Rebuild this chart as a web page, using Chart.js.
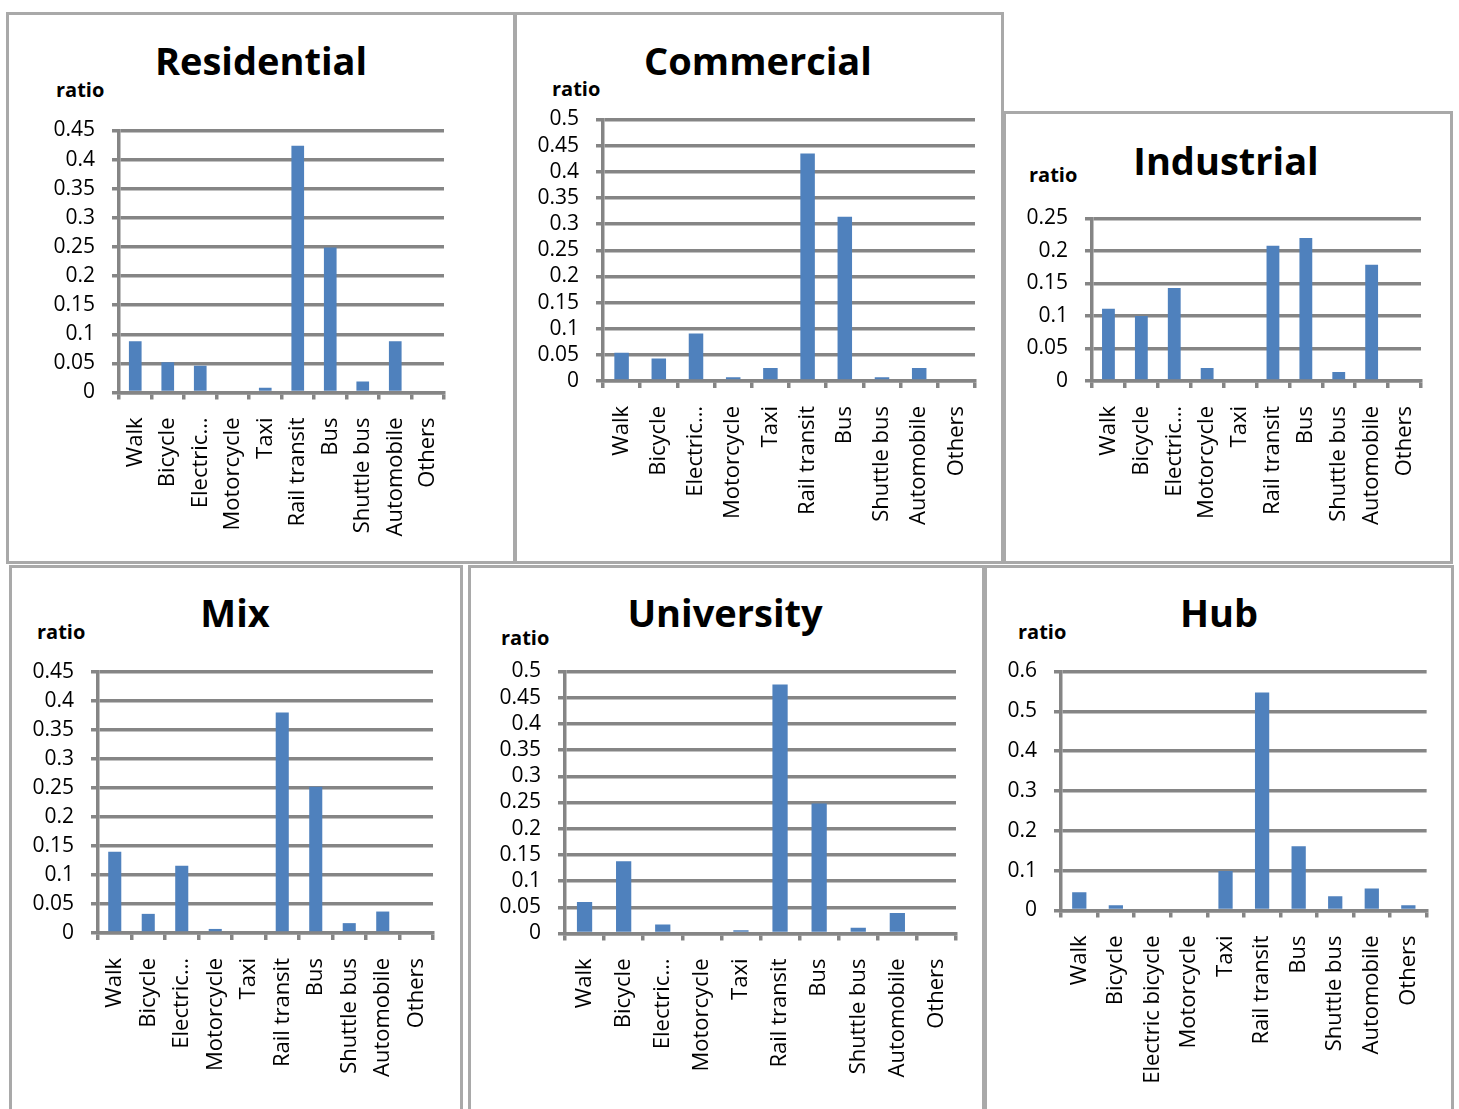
<!DOCTYPE html>
<html>
<head>
<meta charset="utf-8">
<script src="https://cdn.jsdelivr.net/npm/chart.js@4.4.0/dist/chart.umd.min.js"></script>
<style>
  html, body { margin: 0; padding: 0; background: #fff; }
  body { position: relative; width: 1459px; height: 1109px; overflow: hidden; font-family: 'Open Sans', sans-serif; }
  .box { position: absolute; box-sizing: border-box; border: 3px solid #a9a9a9; background: #fff; }
  .title { position: absolute; width: 400px; text-align: center; font-weight: bold; font-size: 38px; line-height: 1; color: #000; white-space: nowrap; }
  .ratio { position: absolute; font-weight: bold; font-size: 20px; line-height: 1; color: #000; }
  canvas { position: absolute; }
</style>
</head>
<body>
<script>
// mode share per land-use type
const categories = ['Walk', 'Bicycle', 'Electric bicycle', 'Motorcycle', 'Taxi', 'Rail transit', 'Bus', 'Shuttle bus', 'Automobile', 'Others'];
const shortCategories = ['Walk', 'Bicycle', 'Electric…', 'Motorcycle', 'Taxi', 'Rail transit', 'Bus', 'Shuttle bus', 'Automobile', 'Others'];

const residential = [0.088, 0.052, 0.046, 0, 0.008, 0.424, 0.249, 0.019, 0.088, 0];
const commercial  = [0.054, 0.043, 0.091, 0.007, 0.025, 0.435, 0.314, 0.007, 0.025, 0];
const industrial  = [0.111, 0.1, 0.143, 0.02, 0, 0.208, 0.22, 0.014, 0.179, 0];
const mix         = [0.14, 0.033, 0.116, 0.007, 0, 0.38, 0.252, 0.017, 0.037, 0];
const university  = [0.06, 0.138, 0.017, 0, 0.006, 0.475, 0.248, 0.011, 0.039, 0];
const hub         = [0.046, 0.013, 0, 0, 0.099, 0.547, 0.161, 0.036, 0.055, 0.013];

// y axis ranges [max, step]
const residentialAxis = [0.45, 0.05];
const commercialAxis  = [0.5, 0.05];
const industrialAxis  = [0.25, 0.05];
const mixAxis         = [0.45, 0.05];
const universityAxis  = [0.5, 0.05];
const hubAxis         = [0.6, 0.1];

const BAR = '#4F81BD';
const GRID = '#858585';

// layout: outer box, plot area, title centre/baseline, "ratio" position
const panels = [
  { name: 'Residential', data: residential, axis: residentialAxis, labels: shortCategories,
    box: [6, 12, 510, 552], plot: [119, 130.5, 444, 392.5], title: [261, 75], ratio: [56, 98] },
  { name: 'Commercial', data: commercial, axis: commercialAxis, labels: shortCategories,
    box: [514, 12, 490, 552], plot: [603, 119.5, 975, 381], title: [758, 75], ratio: [552, 97] },
  { name: 'Industrial', data: industrial, axis: industrialAxis, labels: shortCategories,
    box: [1003, 111, 450, 453], plot: [1092, 218.5, 1421, 381], title: [1226, 175], ratio: [1029, 183] },
  { name: 'Mix', data: mix, axis: mixAxis, labels: shortCategories,
    box: [9, 565, 454, 560], plot: [98, 672, 433, 933], title: [235, 627], ratio: [37, 640] },
  { name: 'University', data: university, axis: universityAxis, labels: shortCategories,
    box: [468, 565, 517, 560], plot: [565, 671.5, 956, 933.5], title: [725, 627], ratio: [501, 646] },
  { name: 'Hub', data: hub, axis: hubAxis, labels: categories,
    box: [984, 565, 470, 560], plot: [1061, 671.5, 1429, 910.5], title: [1219, 627], ratio: [1018, 640] }
];

function fmt(v) {
  return String(parseFloat(Number(v).toFixed(2)));
}

function addDiv(cls, text, left, top) {
  const d = document.createElement('div');
  d.className = cls;
  d.textContent = text;
  d.style.left = left + 'px';
  d.style.top = top + 'px';
  document.body.appendChild(d);
  return d;
}

function buildPanel(p) {
  const [bx, by, bw, bh] = p.box;
  const [pl, pt, pr, pb] = p.plot;
  const yW = pl - bx;          // y axis takes everything left of the plot
  const xH = by + bh - pb - 4; // x axis takes everything below the plot

  const box = document.createElement('div');
  box.className = 'box';
  box.style.left = bx + 'px';
  box.style.top = by + 'px';
  box.style.width = bw + 'px';
  box.style.height = bh + 'px';
  document.body.appendChild(box);

  addDiv('title', p.name, p.title[0] - 200, p.title[1] - 38 * 0.888);
  addDiv('ratio', 'ratio', p.ratio[0], p.ratio[1] - 20 * 0.888);

  const canvas = document.createElement('canvas');
  canvas.width = bw;
  canvas.height = bh;
  canvas.style.left = bx + 'px';
  canvas.style.top = by + 'px';
  canvas.style.width = bw + 'px';
  canvas.style.height = bh + 'px';
  document.body.appendChild(canvas);

  new Chart(canvas, {
    type: 'bar',
    data: {
      labels: p.labels,
      datasets: [{
        data: p.data,
        backgroundColor: BAR,
        borderWidth: 0,
        barPercentage: 0.39,
        categoryPercentage: 1
      }]
    },
    options: {
      responsive: false,
      animation: false,
      devicePixelRatio: 1,
      layout: {
        padding: {
          left: 0,
          top: pt - by,
          right: bx + bw - pr,
          bottom: 4
        }
      },
      plugins: {
        legend: { display: false },
        tooltip: { enabled: false },
        title: { display: false }
      },
      scales: {
        x: {
          afterFit: function(scale) { scale.height = xH; },
          grid: {
            display: true,
            drawOnChartArea: false,
            drawTicks: true,
            tickLength: 7,
            color: GRID,
            lineWidth: 3.5,
            offset: true
          },
          border: { display: true, color: GRID, width: 3.5 },
          ticks: {
            autoSkip: false,
            minRotation: 90,
            maxRotation: 90,
            padding: 18,
            color: '#000',
            font: { family: 'Open Sans', size: 22 }
          }
        },
        y: {
          min: 0,
          max: p.axis[0],
          afterFit: function(scale) { scale.width = yW; },
          grid: {
            color: GRID,
            lineWidth: 3.5,
            tickLength: 7,
            drawTicks: true
          },
          border: { display: true, color: GRID, width: 3.5 },
          ticks: {
            autoSkip: false,
            stepSize: p.axis[1],
            padding: 17,
            color: '#000',
            font: { family: 'Open Sans', size: 21 },
            callback: function(value) { return fmt(value); }
          }
        }
      }
    }
  });
}

document.fonts.load('21px "Open Sans"').then(function() {
  return document.fonts.load('bold 38px "Open Sans"');
}).then(function() {
  panels.forEach(buildPanel);
});
</script>
</body>
</html>
